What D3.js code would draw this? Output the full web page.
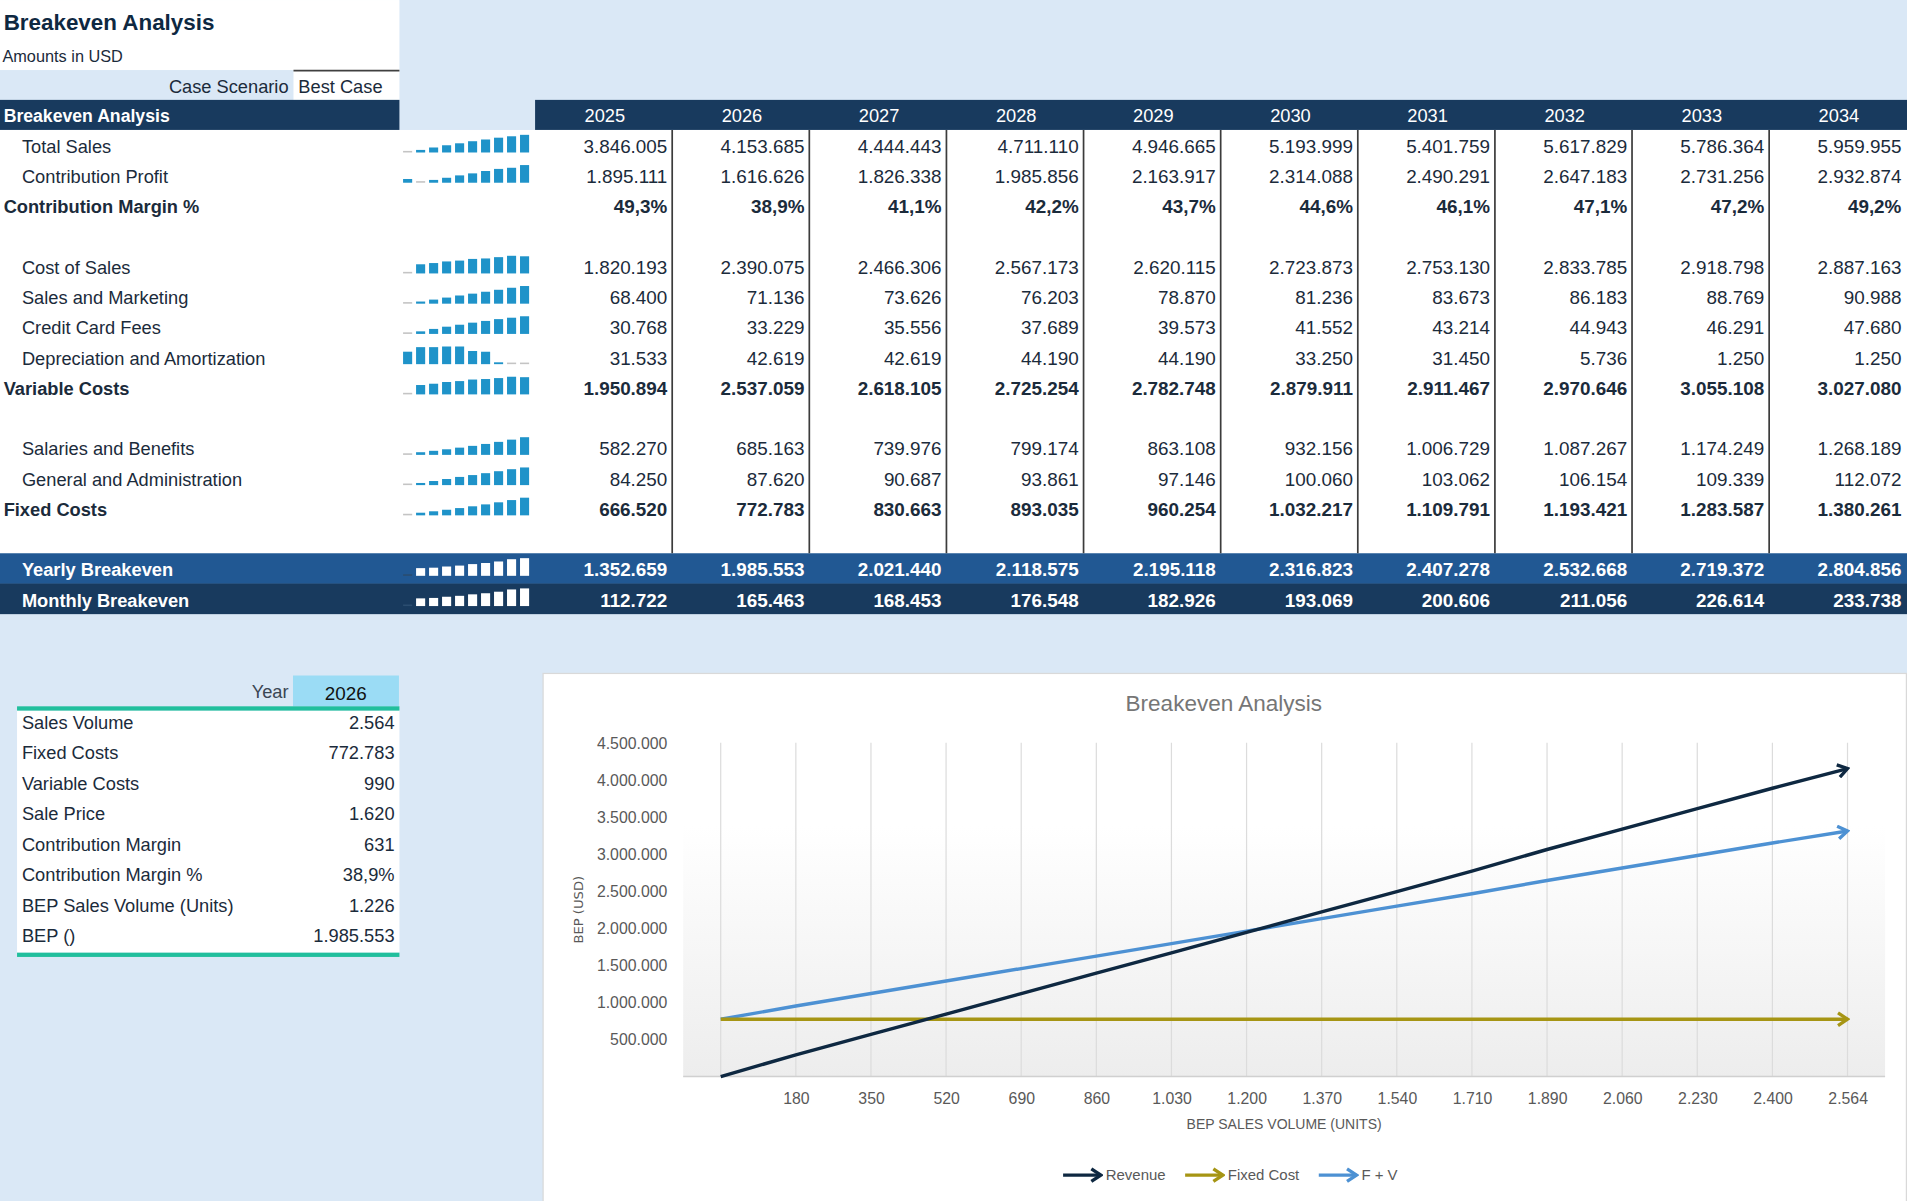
<!DOCTYPE html>
<html>
<head>
<meta charset="utf-8" />
<title>Breakeven Analysis</title>
<script src="https://d3js.org/d3.v7.min.js"></script>
<style>
  body { margin: 0; background: #dae8f6; overflow: hidden; }
  svg { display: block; font-family: "Liberation Sans", Arial, sans-serif; }
</style>
</head>
<body>
<svg id="sheet" width="1907" height="1201" viewBox="0 0 1566 986.2"></svg>

<script>
// ---- data ----
var years = [2025, 2026, 2027, 2028, 2029, 2030, 2031, 2032, 2033, 2034];

var totalSales         = [3846005, 4153685, 4444443, 4711110, 4946665, 5193999, 5401759, 5617829, 5786364, 5959955];
var contributionProfit = [1895111, 1616626, 1826338, 1985856, 2163917, 2314088, 2490291, 2647183, 2731256, 2932874];
var contributionMargin = [49.3, 38.9, 41.1, 42.2, 43.7, 44.6, 46.1, 47.1, 47.2, 49.2];
var costOfSales        = [1820193, 2390075, 2466306, 2567173, 2620115, 2723873, 2753130, 2833785, 2918798, 2887163];
var salesMarketing     = [68400, 71136, 73626, 76203, 78870, 81236, 83673, 86183, 88769, 90988];
var creditCardFees     = [30768, 33229, 35556, 37689, 39573, 41552, 43214, 44943, 46291, 47680];
var depreciation       = [31533, 42619, 42619, 44190, 44190, 33250, 31450, 5736, 1250, 1250];
var variableCosts      = [1950894, 2537059, 2618105, 2725254, 2782748, 2879911, 2911467, 2970646, 3055108, 3027080];
var salaries           = [582270, 685163, 739976, 799174, 863108, 932156, 1006729, 1087267, 1174249, 1268189];
var generalAdmin       = [84250, 87620, 90687, 93861, 97146, 100060, 103062, 106154, 109339, 112072];
var fixedCosts         = [666520, 772783, 830663, 893035, 960254, 1032217, 1109791, 1193421, 1283587, 1380261];
var yearlyBreakeven    = [1352659, 1985553, 2021440, 2118575, 2195118, 2316823, 2407278, 2532668, 2719372, 2804856];
var monthlyBreakeven   = [112722, 165463, 168453, 176548, 182926, 193069, 200606, 211056, 226614, 233738];

var summaryYear   = 2026;
var summaryLabels = ["Sales Volume", "Fixed Costs", "Variable Costs", "Sale Price", "Contribution Margin",
                     "Contribution Margin %", "BEP Sales Volume (Units)", "BEP ()"];
var summaryValues = [2564, 772783, 990, 1620, 631, 38.9, 1226, 1985553];

// breakeven chart
var units        = [0, 180, 350, 520, 690, 860, 1030, 1200, 1370, 1540, 1710, 1890, 2060, 2230, 2400, 2564];
var revenue      = [0, 291600, 567000, 842400, 1117800, 1393200, 1668600, 1944000, 2219400, 2494800,
                    2770200, 3061800, 3337200, 3612600, 3888000, 4153680];
var fixedCost    = [772783, 772783, 772783, 772783, 772783, 772783, 772783, 772783, 772783, 772783,
                    772783, 772783, 772783, 772783, 772783, 772783];
var fixedPlusVar = [772783, 950983, 1119283, 1287583, 1455883, 1624183, 1792483, 1960783, 2129083, 2297383,
                    2465683, 2643883, 2812183, 2980483, 3148783, 3311143];
var yTicks = [500000, 1000000, 1500000, 2000000, 2500000, 3000000, 3500000, 4000000, 4500000];

// ---- formats (European separators) ----
var loc = d3.formatLocale({ decimal: ",", thousands: ".", grouping: [3], currency: ["", ""] });
var fmtNum = loc.format(",.0f");
var fmtPct = function(v) { return loc.format(".1f")(v) + "%"; };

var NAVY = "#183a5e", BAND = "#215893", TEXT = "#1b2b3b", BLUE = "#1f93c9";

var svg = d3.select("#sheet");

// ---- title block ----
svg.append("rect").attr("x", 0).attr("y", 0).attr("width", 328).attr("height", 57.5).attr("fill", "#fff");
svg.append("text").attr("x", 3).attr("y", 24.5).attr("font-size", 18.4).attr("font-weight", "bold")
    .attr("fill", "#0e2841").text("Breakeven Analysis");
svg.append("text").attr("x", 2).attr("y", 50.5).attr("font-size", 13.4).attr("fill", TEXT).text("Amounts in USD");
svg.append("rect").attr("x", 241).attr("y", 57.5).attr("width", 87).attr("height", 24.5).attr("fill", "#fff");
svg.append("line").attr("x1", 241).attr("x2", 328).attr("y1", 58).attr("y2", 58)
    .attr("stroke", "#404040").attr("stroke-width", 1.5);
svg.append("text").attr("x", 237).attr("y", 76).attr("text-anchor", "end").attr("font-size", 15)
    .attr("fill", TEXT).text("Case Scenario");
svg.append("text").attr("x", 245).attr("y", 76).attr("font-size", 15).attr("fill", TEXT).text("Best Case");

// ---- main table ----
var rows = [
  { label: "Total Sales", values: totalSales, indent: true, spark: true },
  { label: "Contribution Profit", values: contributionProfit, indent: true, spark: true },
  { label: "Contribution Margin %", values: contributionMargin, bold: true, pct: true },
  null,
  { label: "Cost of Sales", values: costOfSales, indent: true, spark: true },
  { label: "Sales and Marketing", values: salesMarketing, indent: true, spark: true },
  { label: "Credit Card Fees", values: creditCardFees, indent: true, spark: true },
  { label: "Depreciation and Amortization", values: depreciation, indent: true, spark: true },
  { label: "Variable Costs", values: variableCosts, bold: true, spark: true },
  null,
  { label: "Salaries and Benefits", values: salaries, indent: true, spark: true },
  { label: "General and Administration", values: generalAdmin, indent: true, spark: true },
  { label: "Fixed Costs", values: fixedCosts, bold: true, spark: true },
  null,
  { label: "Yearly Breakeven", values: yearlyBreakeven, bold: true, indent: true, spark: true, band: BAND },
  { label: "Monthly Breakeven", values: monthlyBreakeven, bold: true, indent: true, spark: true, band: NAVY }
];

var rowY = d3.scaleBand().domain(d3.range(rows.length)).range([106.7, 504]);
var colX = d3.scaleBand().domain(years).range([439.4, 1565.4]);
var sparkX = d3.scaleBand().domain(d3.range(years.length)).range([331, 434.5]).paddingInner(0.3);
var rh = rowY.bandwidth();

// header row
svg.append("rect").attr("x", 0).attr("y", 82).attr("width", 328).attr("height", 24.7).attr("fill", NAVY);
svg.append("rect").attr("x", 439.4).attr("y", 82).attr("width", 1566 - 439.4).attr("height", 24.7).attr("fill", NAVY);
svg.append("text").attr("x", 3).attr("y", 100).attr("font-size", 14.5).attr("font-weight", "bold")
    .attr("fill", "#fff").text("Breakeven Analysis");
svg.selectAll(".year").data(years).enter().append("text")
    .attr("x", function(d) { return colX(d) + colX.bandwidth() / 2 + 1; })
    .attr("y", 100.5).attr("text-anchor", "middle").attr("font-size", 15).attr("fill", "#fff")
    .text(function(d) { return d; });

// white body and bands
svg.append("rect").attr("x", 0).attr("y", rowY(0)).attr("width", 1566).attr("height", rowY(14) - rowY(0)).attr("fill", "#fff");
rows.forEach(function(r, i) {
  if (r && r.band) {
    svg.append("rect").attr("x", 0).attr("y", rowY(i)).attr("width", 1566).attr("height", rh + 0.3).attr("fill", r.band);
  }
});

// column separators
svg.selectAll(".sep").data(years.slice(0, -1)).enter().append("line")
    .attr("x1", function(d) { return colX(d) + colX.bandwidth(); })
    .attr("x2", function(d) { return colX(d) + colX.bandwidth(); })
    .attr("y1", rowY(0)).attr("y2", rowY(14))
    .attr("stroke", "#3c3c3c").attr("stroke-width", 1.4);

rows.forEach(function(r, i) {
  if (!r) return;
  var g = svg.append("g").attr("transform", "translate(0," + rowY(i) + ")");
  var col = r.band ? "#fff" : TEXT;
  g.append("text").attr("x", r.indent ? 18 : 3).attr("y", 18.9)
      .attr("font-size", 15).attr("font-weight", r.bold ? "bold" : null)
      .attr("fill", col).text(r.label);
  g.selectAll(".v").data(r.values).enter().append("text")
      .attr("x", function(d, j) { return colX(years[j]) + colX.bandwidth() - 4; })
      .attr("y", 18.9).attr("text-anchor", "end").attr("font-size", 15.5)
      .attr("font-weight", r.bold ? "bold" : null).attr("fill", col)
      .text(function(d) { return r.pct ? fmtPct(d) : fmtNum(d); });

  if (r.spark) {
    var lo = d3.min(r.values), hi = d3.max(r.values);
    var h = d3.scaleLinear().domain([lo, hi]).range([0, 14.5]);
    var base = 18.5;
    g.selectAll(".sp").data(r.values).enter().append("rect")
        .attr("x", function(d, j) { return sparkX(j); })
        .attr("width", sparkX.bandwidth())
        .attr("y", function(d) { return base - Math.max(1.3, h(d)); })
        .attr("height", function(d) { return Math.max(1.3, h(d)); })
        .attr("fill", function(d) {
          if (d === lo) return r.band ? "#2b4d70" : "#c4c4c4";
          return r.band ? "#fff" : BLUE;
        });
  }
});

// ---- summary table ----
svg.append("rect").attr("x", 240.6).attr("y", 554.7).attr("width", 87).attr("height", 25.3).attr("fill", "#9bdcf5");
svg.append("text").attr("x", 284).attr("y", 574.5).attr("text-anchor", "middle").attr("font-size", 15.5)
    .attr("fill", "#111").text(summaryYear);
svg.append("text").attr("x", 237).attr("y", 573).attr("text-anchor", "end").attr("font-size", 15)
    .attr("fill", "#3a4654").text("Year");
svg.append("rect").attr("x", 14).attr("y", 583.5).attr("width", 314).attr("height", 198.8).attr("fill", "#fff");
svg.append("rect").attr("x", 14).attr("y", 580).attr("width", 314).attr("height", 3.5).attr("fill", "#21bf9d");
svg.append("rect").attr("x", 14).attr("y", 782.3).attr("width", 314).attr("height", 3.5).attr("fill", "#21bf9d");

var sumY = d3.scaleBand().domain(summaryLabels).range([580, 780]);
svg.selectAll(".sl").data(summaryLabels).enter().append("text")
    .attr("x", 18).attr("y", function(d) { return sumY(d) + 18.5; })
    .attr("font-size", 15).attr("fill", TEXT).text(function(d) { return d; });
svg.selectAll(".sv").data(summaryValues).enter().append("text")
    .attr("x", 324).attr("y", function(d, i) { return sumY(summaryLabels[i]) + 18.5; })
    .attr("text-anchor", "end").attr("font-size", 15).attr("fill", TEXT)
    .text(function(d, i) { return summaryLabels[i] === "Contribution Margin %" ? fmtPct(d) : fmtNum(d); });

// ---- breakeven chart ----
svg.append("rect").attr("x", 446).attr("y", 553).attr("width", 1119.5).attr("height", 434)
    .attr("fill", "#fff").attr("stroke", "#d9d9d9");
svg.append("text").attr("x", 1005).attr("y", 584).attr("text-anchor", "middle").attr("font-size", 18.5)
    .attr("fill", "#767676").text("Breakeven Analysis");

var x = d3.scalePoint().domain(units).range([561, 1548]).padding(0.5);
var y = d3.scaleLinear().domain([0, 4500000]).range([884, 610]);

var defs = svg.append("defs");
var grad = defs.append("linearGradient").attr("id", "plotGrad").attr("x1", 0).attr("y1", 0).attr("x2", 0).attr("y2", 1);
grad.append("stop").attr("offset", "0%").attr("stop-color", "#ffffff");
grad.append("stop").attr("offset", "25%").attr("stop-color", "#ffffff");
grad.append("stop").attr("offset", "100%").attr("stop-color", "#ededed");

svg.append("rect").attr("x", 561).attr("y", y(4500000)).attr("width", 1548 - 561)
    .attr("height", y(0) - y(4500000)).attr("fill", "url(#plotGrad)");

svg.selectAll(".vgrid").data(units).enter().append("line")
    .attr("x1", function(d) { return x(d); }).attr("x2", function(d) { return x(d); })
    .attr("y1", y(4500000)).attr("y2", y(0))
    .attr("stroke", "#dcdcdc").attr("stroke-width", 1);
svg.append("line").attr("x1", 561).attr("x2", 1548).attr("y1", y(0)).attr("y2", y(0))
    .attr("stroke", "#d0d0d0").attr("stroke-width", 1.2);

var yAxis = svg.append("g").attr("transform", "translate(548,0)")
    .call(d3.axisLeft(y).tickValues(yTicks).tickSize(0).tickPadding(0).tickFormat(fmtNum));
yAxis.select(".domain").remove();
yAxis.selectAll("text").attr("font-size", 13).attr("fill", "#595959").attr("font-family", null);

var xAxis = svg.append("g").attr("transform", "translate(0," + y(0) + ")")
    .call(d3.axisBottom(x).tickSize(0).tickPadding(13)
      .tickFormat(function(d) { return d === 0 ? "" : fmtNum(d); }));
xAxis.select(".domain").remove();
xAxis.selectAll("text").attr("font-size", 13).attr("fill", "#595959").attr("font-family", null);

svg.append("text").attr("x", 1054.5).attr("y", 927).attr("text-anchor", "middle").attr("font-size", 11.5)
    .attr("fill", "#595959").text("BEP SALES VOLUME (UNITS)");
svg.append("text").attr("transform", "translate(479,747) rotate(-90)").attr("text-anchor", "middle")
    .attr("font-family", "DejaVu Sans").attr("font-size", 10.8).attr("fill", "#595959").text("BEP (USD)");

var series = [
  { name: "Revenue", values: revenue, color: "#0e2841" },
  { name: "Fixed Cost", values: fixedCost, color: "#a69514" },
  { name: "F + V", values: fixedPlusVar, color: "#4d91d3" }
];

series.forEach(function(s, i) {
  defs.append("marker").attr("id", "arrow" + i)
      .attr("viewBox", "0 0 10 10").attr("refX", 8.5).attr("refY", 5)
      .attr("markerWidth", 13).attr("markerHeight", 13)
      .attr("markerUnits", "userSpaceOnUse").attr("orient", "auto")
    .append("path").attr("d", "M2.5,1 L8.5,5 L2.5,9")
      .attr("fill", "none").attr("stroke", s.color).attr("stroke-width", 2.1)
      .attr("stroke-linejoin", "miter");
});

var line = d3.line().x(function(d) { return x(d[0]); }).y(function(d) { return y(d[1]); });

// F+V drawn first, revenue on top
[2, 1, 0].forEach(function(i) {
  var s = series[i];
  svg.append("path")
      .datum(units.map(function(u, j) { return [u, s.values[j]]; }))
      .attr("d", line).attr("fill", "none").attr("stroke", s.color).attr("stroke-width", 2.8)
      .attr("marker-end", "url(#arrow" + i + ")");
});

// legend
var lx = 873;
series.forEach(function(s, i) {
  var g = svg.append("g").attr("transform", "translate(" + lx + ",965)");
  g.append("line").attr("x1", 0).attr("x2", 31).attr("y1", 0).attr("y2", 0)
      .attr("stroke", s.color).attr("stroke-width", 2.8).attr("marker-end", "url(#arrow" + i + ")");
  var t = g.append("text").attr("x", 35).attr("y", 4.3).attr("font-size", 12.3).attr("fill", "#595959").text(s.name);
  lx += 35 + t.node().getComputedTextLength() + 16;
});
</script>
</body>
</html>
